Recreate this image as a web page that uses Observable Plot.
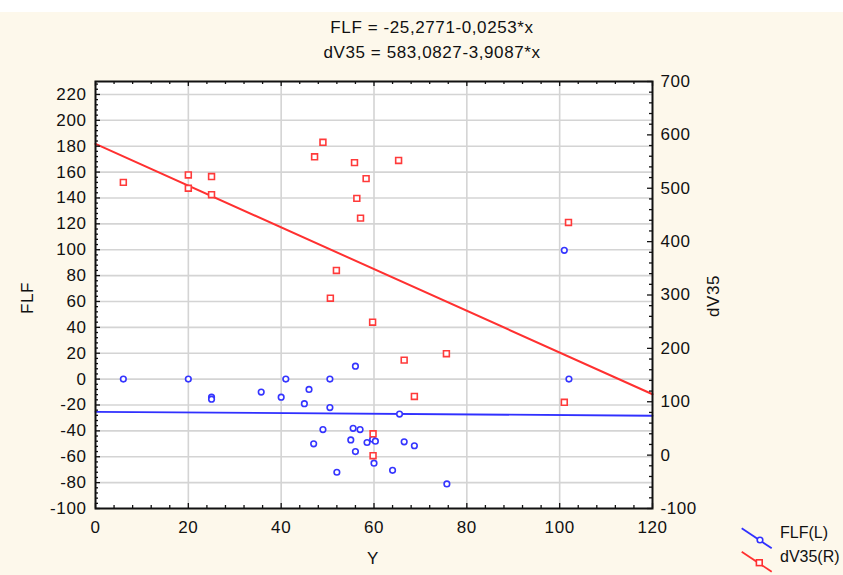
<!DOCTYPE html>
<html>
<head>
<meta charset="utf-8">
<script src="https://cdn.jsdelivr.net/npm/d3@7"></script>
<script src="https://cdn.jsdelivr.net/npm/@observablehq/plot@0.6"></script>
<style>
  html, body { margin:0; padding:0; background:#fff; width:843px; height:575px; overflow:hidden;
    font-family:"Liberation Sans", Arial, sans-serif; }
  #bg { position:absolute; left:0; top:12px; width:843px; height:563px; background:#fdf8eb; }
  #chart { position:absolute; left:0; top:0; }
  #chart svg text { letter-spacing:0.6px; }
  .t { position:absolute; font-size:17px; letter-spacing:0.6px; color:#111; white-space:nowrap; line-height:20px; }
  .c { transform:translate(-50%,-50%); }
  .r { transform:translate(-50%,-50%) rotate(-90deg); }
  .lg { font-size:16px; letter-spacing:0; }
  #legend { position:absolute; left:735px; top:520px; }
</style>
</head>
<body>
<div id="bg"></div>
<div id="chart"></div>
<div class="t c" style="left:432px;top:28px;">FLF = -25,2771-0,0253*x</div>
<div class="t c" style="left:432px;top:53px;">dV35 = 583,0827-3,9087*x</div>
<div class="t r" style="left:28px;top:298px;">FLF</div>
<div class="t r" style="left:714px;top:296px;">dV35</div>
<div class="t c" style="left:373px;top:559px;">Y</div>
<svg id="legend" width="45" height="56">
  <line x1="6.7" y1="8.3" x2="36.7" y2="28.3" stroke="#3030ff" stroke-width="1.8"/>
  <circle cx="25" cy="20" r="2.8" fill="#fff" stroke="#3030ff" stroke-width="1.6"/>
  <line x1="6.7" y1="31.7" x2="36.7" y2="51.7" stroke="#ff3030" stroke-width="1.8"/>
  <rect x="21.4" y="39.8" width="5.8" height="5.8" fill="#fff" stroke="#ff3030" stroke-width="1.6"/>
</svg>
<div class="t lg" style="left:780px;top:523px;">FLF(L)</div>
<div class="t lg" style="left:780px;top:547px;">dV35(R)</div>
<script>
// ---- data ----
const flfX = [6, 20, 25, 25, 35.7, 40, 41, 46, 50.5, 45, 50.5, 56, 49, 47, 55.5, 57, 55, 56, 58.5, 59.7, 60.3, 52, 60, 64, 65.5, 66.5, 68.7, 75.7, 101, 102];
const flfY = [0, 0, -14, -15.5, -10, -14, 0, -8, 0, -19, -22, 10, -39, -50, -38, -39, -47, -56, -49, -46.5, -48, -72, -65, -70.5, -27, -48.5, -51.5, -81, 99.5, 0];
const dvX = [6, 20, 20, 25, 25, 49, 47.2, 55.8, 65.3, 58.3, 56.3, 57.1, 51.9, 50.6, 59.7, 66.5, 75.6, 68.7, 59.8, 59.8, 101.9, 101];
const dvY = [511, 525, 500, 522, 488, 586, 559, 548, 552, 518, 481, 444, 346, 294, 249, 178, 190, 110, 40, -1, 436, 99];
const flfFit = [-25.2771, -0.0253];
const dvFit = [583.0827, -3.9087];
const xTicks = [0, 20, 40, 60, 80, 100, 120];
const leftTicks = [-100, -80, -60, -40, -20, 0, 20, 40, 60, 80, 100, 120, 140, 160, 180, 200, 220];
const rightTicks = [-100, 0, 100, 200, 300, 400, 500, 600, 700];
const xDomain = [0, 120];
const leftDomain = [-100, 230];
const rightDomain = [-100, 700];

// ---- layout ----
const W = 843, H = 575, mT = 81, mB = 67, mL = 95, mR = 191;
const fw = W - mL - mR, fh = H - mT - mB;

// ---- helpers ----
const k = (leftDomain[1] - leftDomain[0]) / (rightDomain[1] - rightDomain[0]);
const toL = v => leftDomain[0] + (v - rightDomain[0]) * k;
const fromL = v => rightDomain[0] + (v - leftDomain[0]) / k;
const flf = flfX.map((x, i) => ({x, y: flfY[i]}));
const dv = dvX.map((x, i) => ({x, y: dvY[i]}));
const xMinor = d3.range(xDomain[0], xDomain[1] + 1, 4).filter(d => d % 20 !== 0);
const leftMinor = d3.range(leftDomain[0], leftDomain[1], 4).filter(d => d % 20 !== 0);
const rightMajorL = rightTicks.map(toL);
const rightMinorL = d3.range(rightDomain[0], rightDomain[1], 20).filter(d => d % 100 !== 0).map(toL);
const tk = {stroke: "#111", strokeWidth: 1.3};

const chart = Plot.plot({
  width: W, height: H,
  marginTop: mT, marginBottom: mB, marginLeft: mL, marginRight: mR,
  x: {domain: xDomain},
  y: {domain: leftDomain},
  style: {background: "transparent", fontFamily: "'Liberation Sans', Arial, sans-serif", fontSize: "17px", color: "#111"},
  marks: [
    Plot.frame({fill: "#fff", stroke: null}),
    Plot.gridX(xTicks.slice(1, -1), {stroke: "#d4d4d4", strokeOpacity: 1, strokeWidth: 1.6}),
    Plot.gridY(leftTicks.slice(1), {stroke: "#d4d4d4", strokeOpacity: 1, strokeWidth: 1.6}),
    Plot.line(xDomain, {x: d => d, y: d => flfFit[0] + flfFit[1] * d, stroke: "#3030ff", strokeWidth: 1.8}),
    Plot.line(xDomain, {x: d => d, y: d => toL(dvFit[0] + dvFit[1] * d), stroke: "#ff3030", strokeWidth: 2}),
    Plot.dot(flf, {x: "x", y: "y", r: 2.8, stroke: "#3535ff", strokeWidth: 1.6, fill: "#fff"}),
    Plot.dot(dv, {x: "x", y: d => toL(d.y), symbol: "square", r: 3.3, stroke: "#ff3a3a", strokeWidth: 1.6, fill: "#fff"}),
    // inward tick marks
    Plot.tickX(xTicks, {x: d => d, insetTop: fh - 5, ...tk}),
    Plot.tickX(xMinor, {x: d => d, insetTop: fh - 3, ...tk}),
    Plot.tickX(xTicks, {x: d => d, insetBottom: fh - 5, ...tk}),
    Plot.tickX(xMinor, {x: d => d, insetBottom: fh - 3, ...tk}),
    Plot.tickY(leftTicks, {y: d => d, insetRight: fw - 5, ...tk}),
    Plot.tickY(leftMinor, {y: d => d, insetRight: fw - 3, ...tk}),
    Plot.tickY(rightMajorL, {y: d => d, insetLeft: fw - 5, ...tk}),
    Plot.tickY(rightMinorL, {y: d => d, insetLeft: fw - 3, ...tk}),
    Plot.frame({stroke: "#111", strokeWidth: 2}),
    // tick labels
    Plot.axisX(xTicks, {anchor: "bottom", tickSize: 0, tickPadding: 12, label: null, tickFormat: d => String(d)}),
    Plot.axisY(leftTicks, {anchor: "left", tickSize: 0, tickPadding: 9, label: null, tickFormat: d => String(d)}),
    Plot.axisY(rightMajorL, {anchor: "right", tickSize: 0, tickPadding: 8, label: null,
      tickFormat: d => String(Math.round(fromL(d)))})
  ]
});
document.getElementById("chart").appendChild(chart);
</script>
</body>
</html>
